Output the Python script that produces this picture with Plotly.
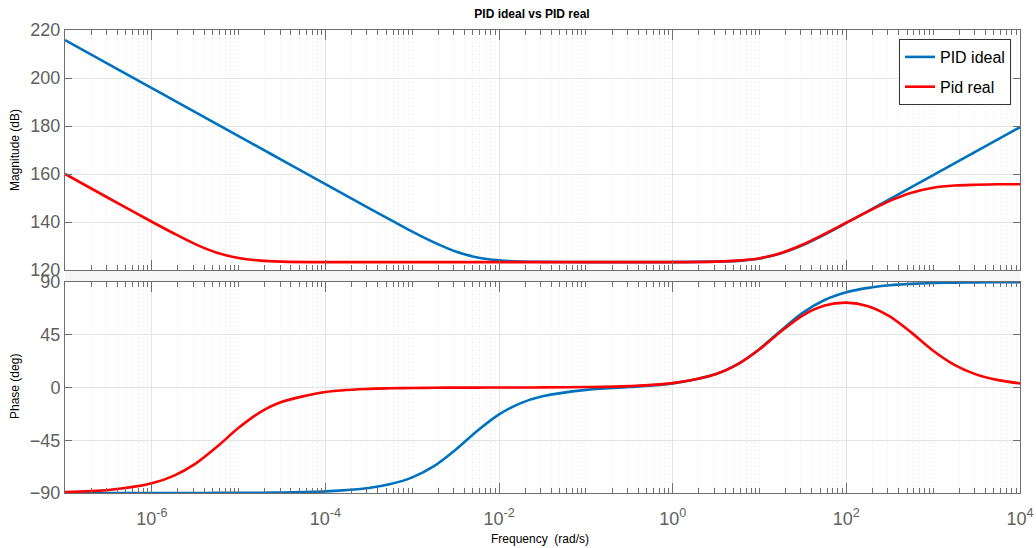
import plotly.graph_objects as go

# ---------------- data ----------------
freq = [1e-7, 3.16e-7, 1e-6, 1.78e-6, 3.16e-6, 5.62e-6, 1e-5, 1.78e-5, 3.16e-5,
        1e-4, 3.16e-4, 5.62e-4, 1e-3, 1.78e-3, 3.16e-3, 5.62e-3, 1e-2, 1.78e-2,
        3.16e-2, 0.1, 0.316, 1, 3.16, 5.62, 10, 17.8, 31.6, 56.2, 100, 178, 316,
        562, 1000, 1778, 3162, 5623, 10000]

mag_ideal = [215.8, 205.8, 195.8, 190.8, 185.8, 180.8, 175.8, 170.8, 165.8,
             155.8, 145.8, 140.9, 136.0, 131.5, 127.7, 125.2, 124.0, 123.5,
             123.4, 123.3, 123.3, 123.3, 123.5, 123.8, 124.8, 127.0, 130.4, 134.8,
             139.6, 144.5, 149.5, 154.5, 159.5, 164.5, 169.5, 174.5, 179.5]

phase_ideal = [-90.0, -90.0, -90.0, -90.0, -90.0, -89.9, -89.9, -89.8, -89.6,
               -88.6, -85.7, -82.4, -76.7, -67.1, -53.1, -36.9, -22.9, -13.3,
               -7.5, -2.0, 0.4, 3.5, 11.5, 19.9, 32.9, 48.9, 63.9, 74.6,
               81.2, 85.0, 87.2, 88.4, 89.1, 89.5, 89.7, 89.8, 89.9]

mag_real = [160.0, 150.0, 140.1, 135.3, 130.8, 127.2, 125.0, 123.9, 123.5,
            123.3, 123.3, 123.3, 123.3, 123.3, 123.3, 123.3, 123.3, 123.3,
            123.3, 123.3, 123.3, 123.3, 123.5, 123.9, 124.9, 127.1, 130.6, 135.0,
            139.7, 144.4, 148.8, 152.2, 154.3, 155.2, 155.5, 155.7, 155.7]

phase_real = [-89.2, -87.4, -81.7, -75.4, -65.2, -50.6, -34.4, -21.0, -12.2,
              -3.9, -1.2, -0.7, -0.4, -0.2, -0.1, -0.1, 0.0, 0.0,
              0.1, 0.4, 1.2, 3.7, 11.5, 19.9, 32.6, 48.0, 61.6, 69.9,
              72.4, 69.4, 60.6, 46.8, 31.4, 19.1, 11.0, 6.3, 3.5]

names = ["PID ideal", "Pid real"]
colors = ["#0072BD", "#FF0000"]

major_x = [1e-6, 1e-4, 1e-2, 1e0, 1e2, 1e4]
major_x_text = ["10<sup>-6</sup>", "10<sup>-4</sup>", "10<sup>-2</sup>",
                "10<sup>0</sup>", "10<sup>2</sup>", "10<sup>4</sup>"]
minor_x = [k * 10.0 ** n for n in range(-7, 4) for k in range(1, 10)
           if not (k == 1 and n % 2 == 0) and not (k == 1 and n == -7)]

mag_ticks = [120, 140, 160, 180, 200, 220]
phase_ticks = [-90, -45, 0, 45, 90]

# ---------------- figure ----------------
W, H = 1036, 548
L, R, T, B = 65, 16, 30, 55
pw = W - L - R
ph = H - T - B
top_dom = [(493 - 270) / ph, 1.0]
bot_dom = [0.0, (493 - 282) / ph]

fig = go.Figure()
series = [(mag_ideal, phase_ideal), (mag_real, phase_real)]
for i, (m, p) in enumerate(series):
    fig.add_trace(go.Scatter(x=freq, y=m, mode="lines", name=names[i],
                             legendgroup=names[i],
                             line=dict(color=colors[i], width=2.6, shape="spline",
                                       smoothing=0.8),
                             xaxis="x", yaxis="y"))
for i, (m, p) in enumerate(series):
    fig.add_trace(go.Scatter(x=freq, y=p, mode="lines", name=names[i],
                             legendgroup=names[i], showlegend=False,
                             line=dict(color=colors[i], width=2.6, shape="spline",
                                       smoothing=0.8),
                             xaxis="x2", yaxis="y2"))

tickfont = dict(family="Liberation Sans, Arial", size=18, color="#5f5f5f")
axline = "#6e6e6e"
gridc = "#e4e4e4"
minor = dict(tickmode="array", tickvals=minor_x, ticks="inside", ticklen=5,
             tickcolor=axline, tickwidth=1, showgrid=True, gridcolor="#e6e6e6",
             griddash="1px,3px", gridwidth=1)

xcommon = dict(type="log", range=[-7, 4], tickmode="array", tickvals=major_x,
               ticktext=major_x_text, ticks="inside", ticklen=10, tickcolor=axline,
               showline=True, linecolor=axline, linewidth=1, mirror="ticks",
               showgrid=True, gridcolor=gridc, gridwidth=1, zeroline=False,
               tickfont=tickfont, minor=minor, automargin=False)
ycommon = dict(ticks="inside", ticklen=7, tickcolor=axline, showline=True,
               linecolor=axline, linewidth=1, mirror="ticks", showgrid=True,
               gridcolor=gridc, gridwidth=1, zeroline=False, tickfont=tickfont,
               automargin=False)

fig.update_layout(
    width=W, height=H,
    margin=dict(l=L, r=R, t=T, b=B, autoexpand=False),
    paper_bgcolor="white", plot_bgcolor="white",
    xaxis=dict(domain=[0, 1], anchor="y", showticklabels=False, **xcommon),
    xaxis2=dict(domain=[0, 1], anchor="y2", matches="x", ticklabelstandoff=9,
                **xcommon),
    yaxis=dict(domain=top_dom, anchor="x", range=[120, 220], tickvals=mag_ticks,
               **ycommon),
    yaxis2=dict(domain=bot_dom, anchor="x2", range=[-90, 90], tickvals=phase_ticks,
                **ycommon),
    showlegend=True,
    legend=dict(x=(1011 - L) / pw, y=(493 - 39) / ph,
                xanchor="right", yanchor="top", bgcolor="white",
                bordercolor="#333333", borderwidth=1, tracegroupgap=6,
                traceorder="grouped",
                font=dict(family="Liberation Sans, Arial", size=16, color="black")),
    title=dict(text="<b>PID ideal vs PID real</b>", xref="paper",
               x=(532 - L) / pw, xanchor="center",
               y=1 - 14 / H, yanchor="middle",
               font=dict(family="Liberation Sans, Arial", size=12, color="black")),
)

fig.add_shape(type="rect", xref="paper", yref="paper", x0=0, x1=1,
              y0=bot_dom[1], y1=top_dom[0], fillcolor="#f6f6f6",
              line=dict(width=0), layer="below")

afont = dict(family="Liberation Sans, Arial", size=12, color="black")
fig.add_annotation(text="Magnitude (dB)", xref="paper", yref="paper",
                   x=(15 - L) / pw, y=(493 - 150) / ph, textangle=-90,
                   showarrow=False, xanchor="center", yanchor="middle", font=afont)
fig.add_annotation(text="Phase (deg)", xref="paper", yref="paper",
                   x=(15 - L) / pw, y=(493 - 387) / ph, textangle=-90,
                   showarrow=False, xanchor="center", yanchor="middle", font=afont)
fig.add_annotation(text="Frequency  (rad/s)", xref="paper", yref="paper",
                   x=(540 - L) / pw, y=-(539 - 493) / ph,
                   showarrow=False, xanchor="center", yanchor="middle", font=afont)

fig.write_html("out.html")
